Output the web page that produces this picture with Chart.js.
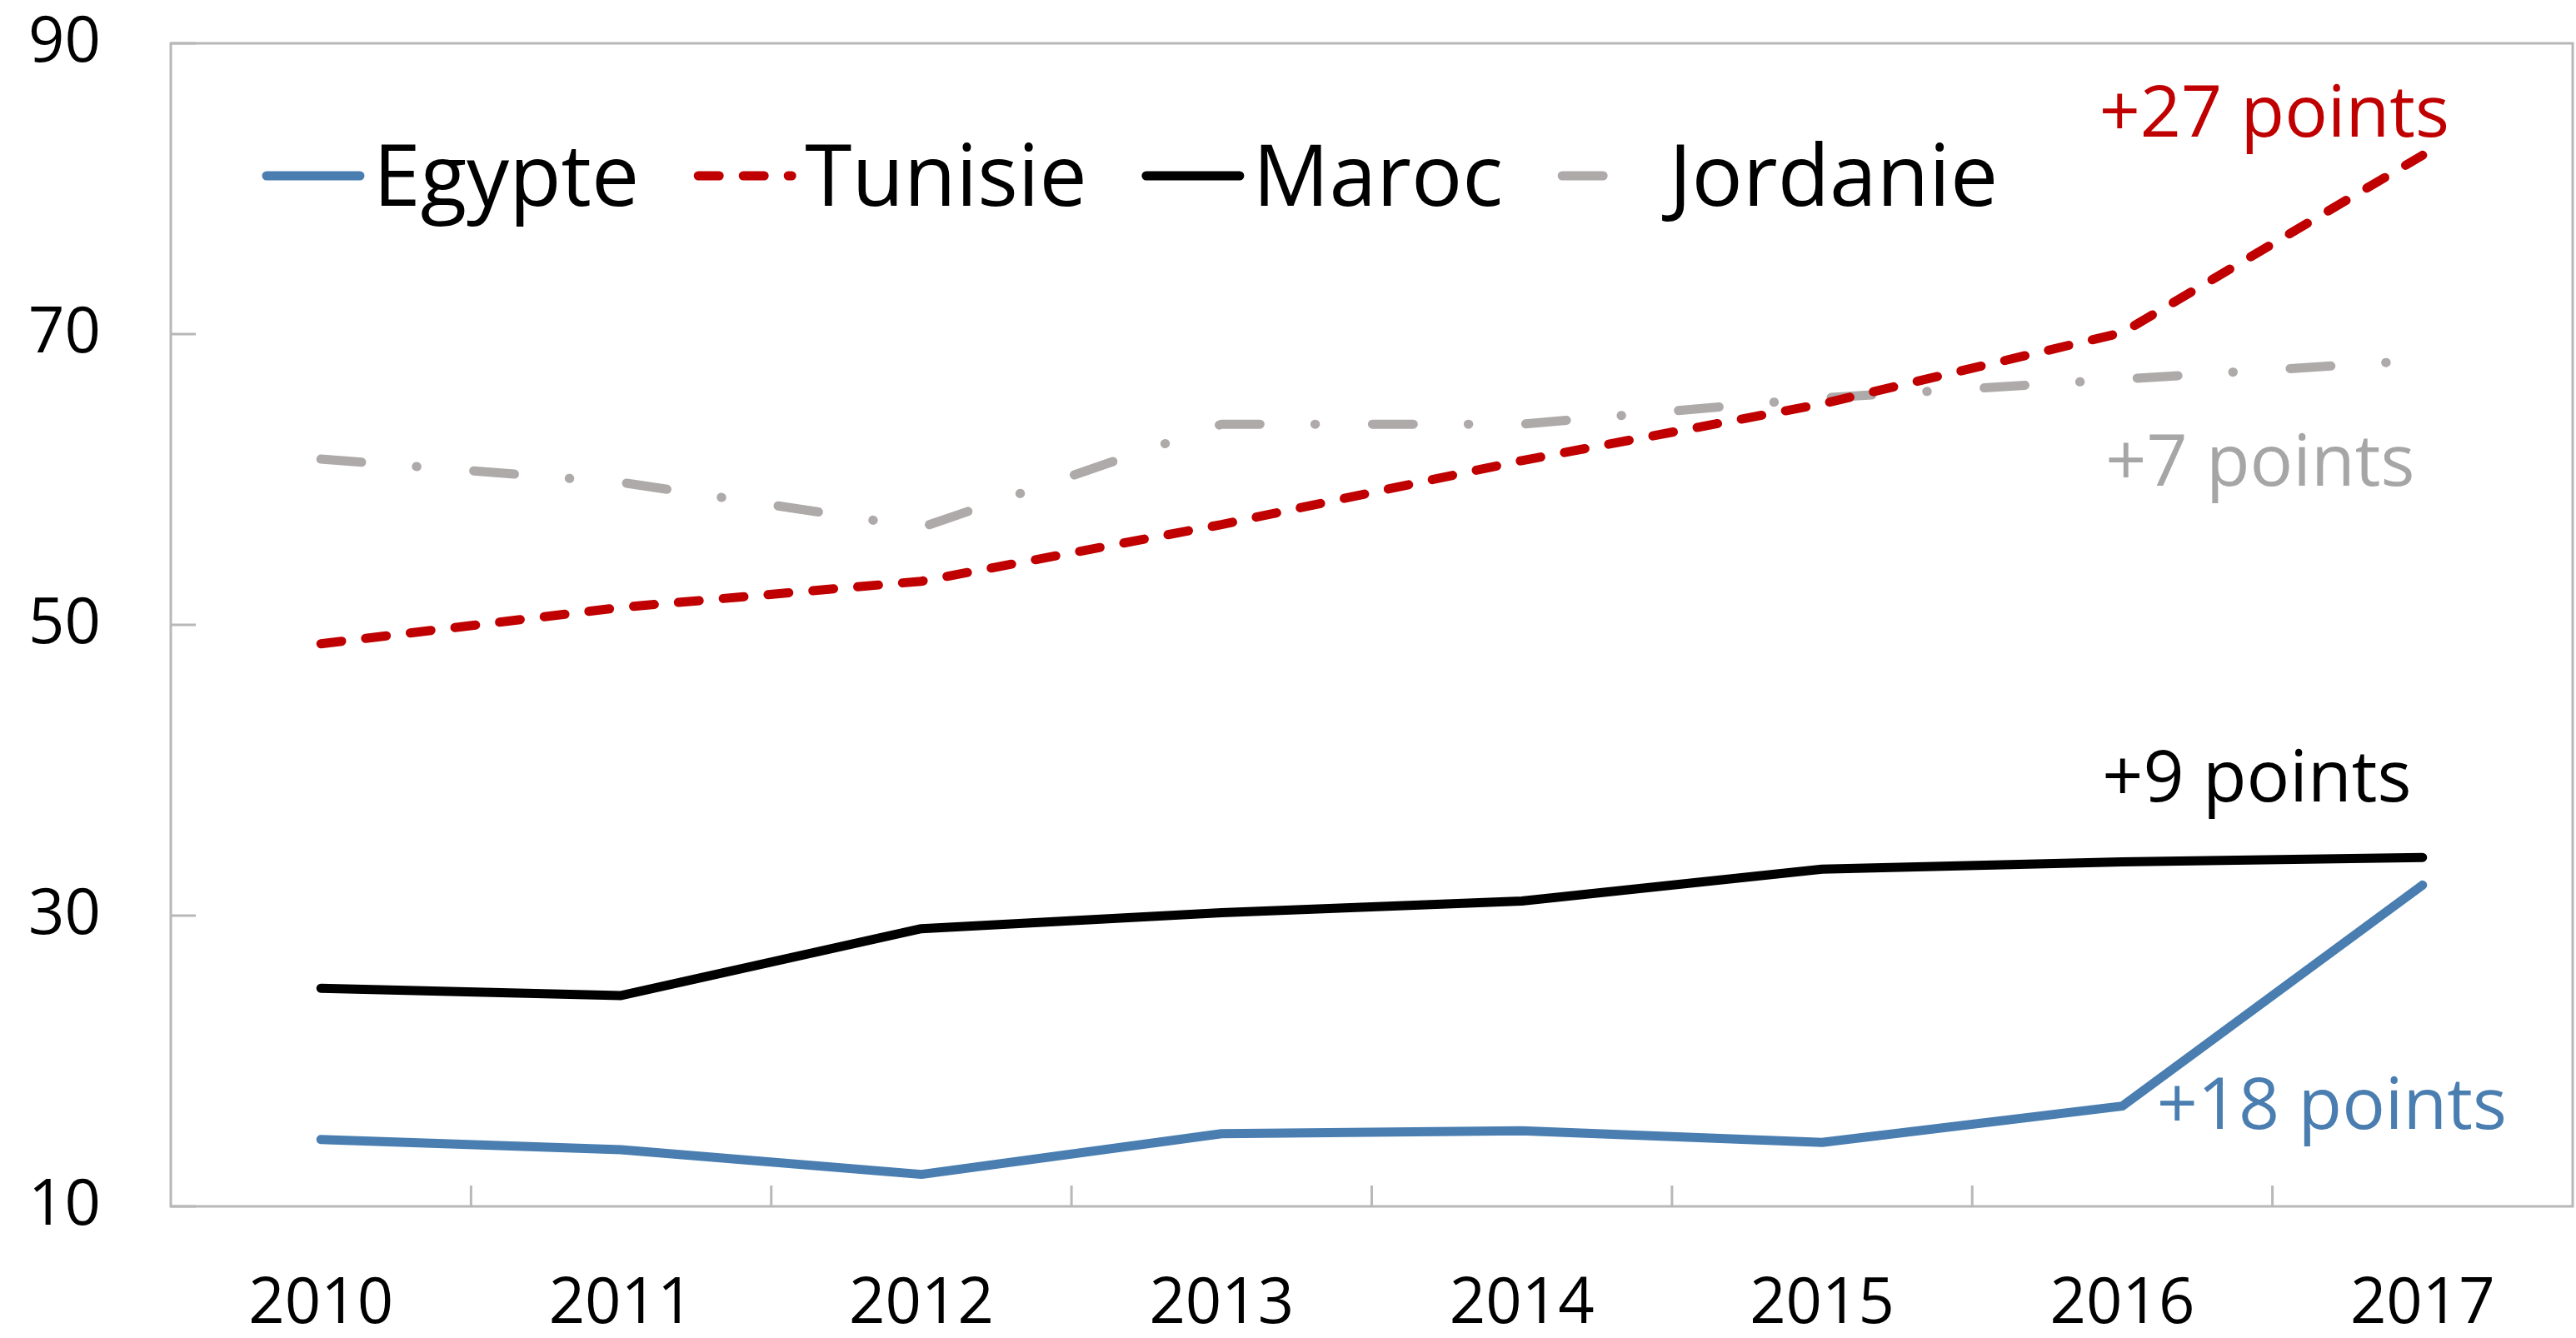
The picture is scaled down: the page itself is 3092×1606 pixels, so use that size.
<!DOCTYPE html>
<html>
<head>
<meta charset="utf-8">
<script src="https://cdn.jsdelivr.net/npm/chart.js@4.4.1/dist/chart.umd.min.js"></script>
<style>
    html, body { margin: 0; padding: 0; background: #fff; }
    #wrap { width: 3092px; height: 1606px; }
</style>
</head>
<body>
<div id="wrap"><canvas id="chart" width="3092" height="1606"></canvas></div>
<script>
/* DATA */
const years = ["2010", "2011", "2012", "2013", "2014", "2015", "2016", "2017"];
const egypte = [14.6, 13.9, 12.2, 15.0, 15.2, 14.4, 16.9, 32.1];
const tunisie = [48.7, 51.2, 53.0, 56.9, 61.3, 65.2, 70.1, 82.3];
const maroc = [25.0, 24.5, 29.1, 30.2, 31.0, 33.2, 33.7, 34.0];
const jordanie = [61.4, 59.8, 56.7, 63.8, 63.8, 65.6, 66.9, 68.2];
const yTicks = [10, 30, 50, 70, 90];

const FONT = '"Open Sans", "Noto Sans", sans-serif';
const AXIS_GREY = "#b8b8b8";

// labels on the right side: text, colour, y value, x shift from the 2017 point
const notes = [
    { text: "+27 points", color: "#c00000", y: 83.6, dx: -178 },
    { text: "+7 points", color: "#a6a6a6", y: 59.55, dx: -195 },
    { text: "+9 points", color: "#000000", y: 37.85, dx: -199 },
    { text: "+18 points", color: "#4a7eb0", y: 15.35, dx: -109 },
];

// box round the plot + inward tick marks
const framePlugin = {
    id: "frame",
    beforeDatasetsDraw(chart) {
        const ctx = chart.ctx;
        const a = chart.chartArea;
        const xs = chart.scales.x;
        const ys = chart.scales.y;
        ctx.save();
        ctx.strokeStyle = AXIS_GREY;
        ctx.lineWidth = 3;
        ctx.strokeRect(a.left, a.top, a.right - a.left, a.bottom - a.top);
        ctx.beginPath();
        yTicks.forEach(v => {
            const y = ys.getPixelForValue(v);
            ctx.moveTo(a.left, y);
            ctx.lineTo(a.left + 30, y);
        });
        for (let i = 1; i < years.length; i++) {
            const x = (xs.getPixelForValue(i - 1) + xs.getPixelForValue(i)) / 2;
            ctx.moveTo(x, a.bottom);
            ctx.lineTo(x, a.bottom - 25);
        }
        ctx.stroke();
        ctx.restore();
    },
};

// legend inside the plot, drawn from the datasets
const legendPlugin = {
    id: "insideLegend",
    afterDraw(chart) {
        const ctx = chart.ctx;
        const a = chart.chartArea;
        let x = a.left + 110;
        const baseline = 247;
        const lineY = 211;
        ctx.save();
        ctx.font = "102px " + FONT;
        ctx.textBaseline = "alphabetic";
        chart.data.datasets.forEach(ds => {
            ctx.strokeStyle = ds.borderColor;
            ctx.lineWidth = ds.borderWidth;
            ctx.lineCap = "round";
            ctx.setLineDash(ds.borderDash || []);
            ctx.beginPath();
            ctx.moveTo(x + 5, lineY);
            ctx.lineTo(x + 117, lineY);
            ctx.stroke();
            ctx.setLineDash([]);
            ctx.fillStyle = "#000";
            ctx.fillText(ds.label, x + 133, baseline);
            x += 133 + ctx.measureText(ds.label).width + 66;
        });

        const xs = chart.scales.x;
        const ys = chart.scales.y;
        const lastX = xs.getPixelForValue(years.length - 1);
        ctx.font = "86px " + FONT;
        ctx.textAlign = "center";
        notes.forEach(n => {
            ctx.fillStyle = n.color;
            ctx.fillText(n.text, lastX + n.dx, ys.getPixelForValue(n.y));
        });
        ctx.restore();
    },
};

const ctxChart = document.getElementById("chart");

new Chart(ctxChart, {
    type: "line",
    data: {
        labels: years,
        datasets: [
            {
                label: "Egypte",
                data: egypte,
                borderColor: "#4a7eb0",
                borderWidth: 11,
            },
            {
                label: "Tunisie",
                data: tunisie,
                borderColor: "#c00000",
                borderWidth: 11,
                borderDash: [25, 29],
            },
            {
                label: "Maroc",
                data: maroc,
                borderColor: "#000000",
                borderWidth: 11,
            },
            {
                label: "Jordanie",
                data: jordanie,
                borderColor: "#aeaaaa",
                borderWidth: 11,
                borderDash: [49, 66, 0.5, 68.5],
            },
        ],
    },
    options: {
        responsive: false,
        animation: false,
        devicePixelRatio: 1,
        elements: {
            line: {
                tension: 0,
                borderCapStyle: "round",
                borderJoinStyle: "round",
                fill: false,
            },
            point: { radius: 0, hoverRadius: 0 },
        },
        layout: {
            padding: { top: 52, right: 4, left: 0, bottom: 0 },
        },
        plugins: {
            legend: { display: false },
            tooltip: { enabled: false },
        },
        scales: {
            x: {
                offset: true,
                grid: { display: false, drawTicks: false },
                border: { display: false },
                ticks: {
                    color: "#000",
                    padding: 73,
                    maxRotation: 0,
                    font: { family: FONT, size: 76 },
                },
                afterFit: s => {
                    s.height = 158;
                    s.paddingLeft = 0;
                    s.paddingRight = 0;
                },
            },
            y: {
                min: 10,
                max: 90,
                grid: { display: false, drawTicks: false },
                border: { display: false },
                ticks: {
                    color: "#000",
                    padding: 84,
                    font: { family: FONT, size: 76 },
                },
                afterBuildTicks: s => { s.ticks = yTicks.map(v => ({ value: v })); },
                afterFit: s => {
                    s.width = 205;
                    s.paddingTop = 0;
                    s.paddingBottom = 0;
                },
            },
        },
    },
    plugins: [framePlugin, legendPlugin],
});
</script>
</body>
</html>
